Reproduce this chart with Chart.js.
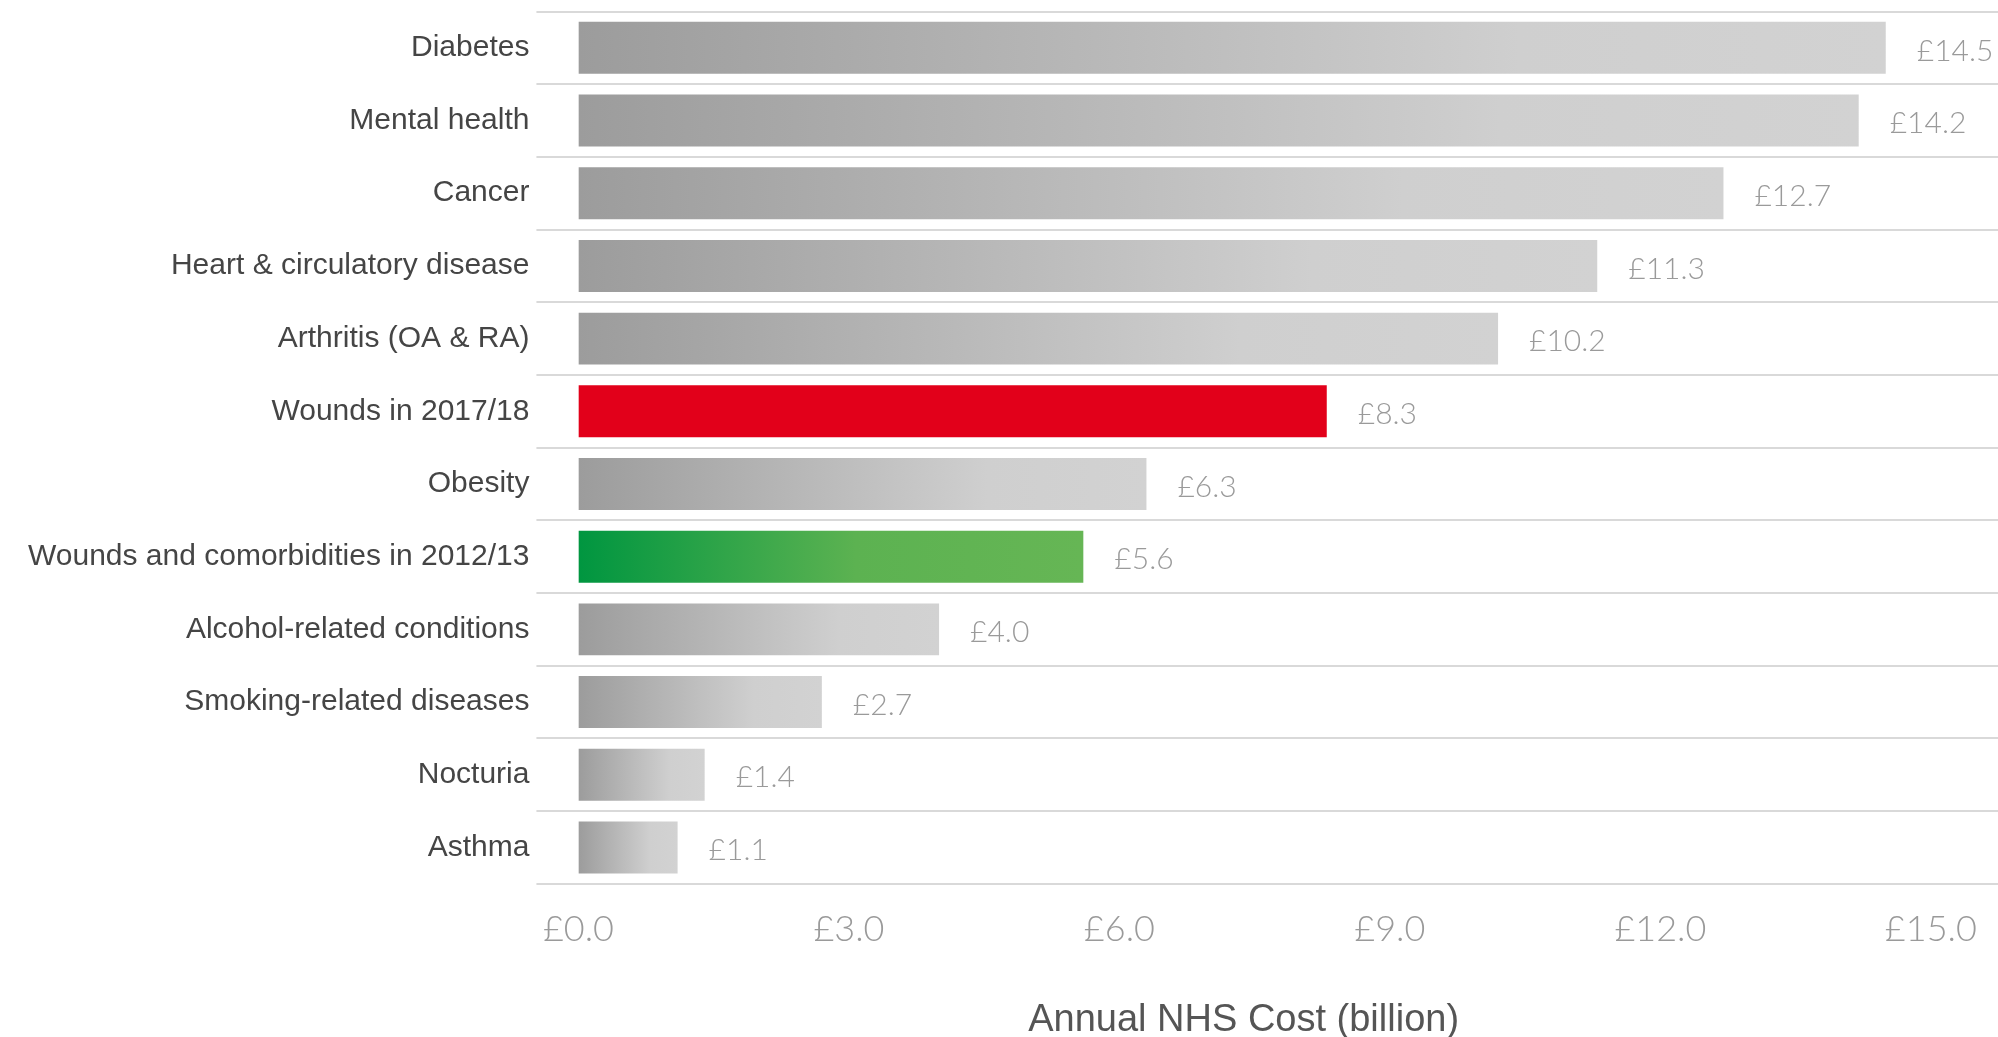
<!DOCTYPE html>
<html>
<head>
<meta charset="utf-8">
<title>Annual NHS Cost</title>
<script src="https://cdn.jsdelivr.net/npm/chart.js@4.4.1/dist/chart.umd.min.js"></script>
<style>
  html, body { margin: 0; padding: 0; background: #fff; }
  #wrap { width: 1998px; height: 1037px; position: relative; }
</style>
</head>
<body>
<div id="wrap"><canvas id="costChart"></canvas></div>
<script>
// datos
const categories = [
  'Diabetes', 'Mental health', 'Cancer', 'Heart & circulatory disease',
  'Arthritis (OA & RA)', 'Wounds in 2017/18', 'Obesity',
  'Wounds and comorbidities in 2012/13', 'Alcohol-related conditions',
  'Smoking-related diseases', 'Nocturia', 'Asthma'
];
const costs = [14.5, 14.2, 12.7, 11.3, 10.2, 8.3, 6.3, 5.6, 4.0, 2.7, 1.4, 1.1];
const barKind = ['grey', 'grey', 'grey', 'grey', 'grey', 'red', 'grey', 'green', 'grey', 'grey', 'grey', 'grey'];
const xTicks = [0, 3, 6, 9, 12, 15];
const axisTitle = 'Annual NHS Cost (billion)';

// degradado por barra, desde el inicio hasta el final de cada barra
function barFill(c) {
  const chart = c.chart;
  const kind = barKind[c.dataIndex];
  if (kind === 'red') return '#e2001a';
  if (!chart.chartArea || !chart.scales.x) return kind === 'green' ? '#2fa64a' : '#b5b5b5';
  const x0 = chart.scales.x.getPixelForValue(0);
  const x1 = chart.scales.x.getPixelForValue(costs[c.dataIndex]);
  const g = chart.ctx.createLinearGradient(x0, 0, x1, 0);
  if (kind === 'green') {
    g.addColorStop(0, '#009640');
    g.addColorStop(0.55, '#5cb251');
    g.addColorStop(1, '#66b655');
  } else {
    g.addColorStop(0, '#9c9c9c');
    g.addColorStop(0.72, '#cfcfcf');
    g.addColorStop(1, '#d2d2d2');
  }
  return g;
}

// etiquetas de valor al final de cada barra + título del eje x
const valueLabels = {
  id: 'valueLabels',
  afterDatasetsDraw(chart) {
    const ctx = chart.ctx;
    const meta = chart.getDatasetMeta(0);
    ctx.save();
    ctx.font = '300 30px Lato, "Liberation Sans", sans-serif';
    ctx.fillStyle = '#9a9a9a';
    ctx.textAlign = 'left';
    ctx.textBaseline = 'middle';
    meta.data.forEach((bar, i) => {
      ctx.fillText('£' + costs[i].toFixed(1), bar.x + 31, bar.y + 3);
    });
    // título centrado sobre el rango de las marcas
    const xs = chart.scales.x;
    const cx = (xs.getPixelForValue(xTicks[0]) + xs.getPixelForValue(xTicks[xTicks.length - 1])) / 2;
    ctx.font = '38px "Liberation Sans", Arial, sans-serif';
    ctx.fillStyle = '#555555';
    ctx.textAlign = 'center';
    ctx.fillText(axisTitle, cx - 11, chart.height - 16);
    ctx.restore();
  }
};

const ctx = document.getElementById('costChart').getContext('2d');
new Chart(ctx, {
  type: 'bar',
  data: {
    labels: categories,
    datasets: [{
      data: costs,
      backgroundColor: barFill,
      borderWidth: 0,
      barPercentage: 0.715,
      categoryPercentage: 1
    }]
  },
  options: {
    indexAxis: 'y',
    responsive: true,
    maintainAspectRatio: false,
    animation: false,
    layout: { padding: { left: 21, top: 1, right: 0, bottom: 70 } },
    plugins: {
      legend: { display: false },
      tooltip: { enabled: false }
    },
    scales: {
      x: {
        min: 0,
        max: 15.745,
        afterBuildTicks: (axis) => { axis.ticks = xTicks.map(v => ({ value: v })); },
        grid: { display: false },
        border: { display: false },
        ticks: {
          padding: 16,
          color: '#9a9a9a',
          font: { family: 'Lato, "Liberation Sans", sans-serif', size: 36, weight: 300 },
          maxRotation: 0,
          callback: (v) => '£' + Number(v).toFixed(1)
        },
        title: { display: false }
      },
      y: {
        grid: {
          color: '#d9d9d9',
          lineWidth: 2,
          tickLength: 42,
          drawTicks: true
        },
        border: { display: false },
        ticks: {
          padding: 7,
          color: '#454545',
          font: { family: '"Liberation Sans", Arial, sans-serif', size: 30, lineHeight: 0.3 }
        }
      }
    }
  },
  plugins: [valueLabels]
});
</script>
</body>
</html>
